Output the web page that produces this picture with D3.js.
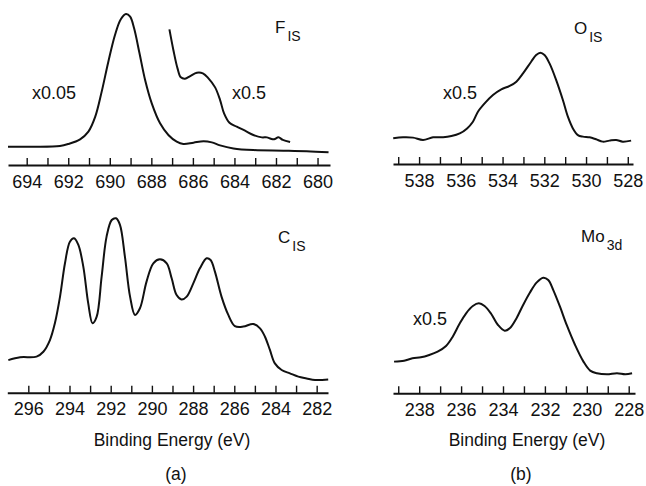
<!DOCTYPE html>
<html>
<head>
<meta charset="utf-8">
<script src="https://cdn.jsdelivr.net/npm/d3@7"></script>
<style>
  body { margin: 0; background: #fff; }
  svg { font-family: "Liberation Sans", Arial, sans-serif; }
</style>
</head>
<body>
<div id="plot"></div>
<script>
// binding energy (eV), intensity (arb. units, peak = 100)
const f1sMain = [[694.9,12.1],[693.68,12.1],[692.4,12.6],[692.0,13.9],[691.43,17.0],[691.03,22.1],[690.7,32.0],[690.39,48.6],[690.07,68.4],[689.75,86.1],[689.47,96.5],[689.22,100],[689.02,98.2],[688.83,90.5],[688.57,74],[688.3,56.3],[687.98,40.8],[687.58,27.6],[687.18,19.9],[686.78,15.5],[686.46,13.9],[685.97,14.8],[685.49,15.7],[685.09,15.0],[684.69,13.0],[684.05,11.0],[683.09,9.9],[681.64,9.5],[680.52,9.1],[679.47,8.4]];
const f1sHalf = [[687.13,89.8],[686.94,76.2],[686.74,64.0],[686.58,58.1],[686.38,57.2],[686.13,58.9],[685.81,61.1],[685.52,60.7],[685.25,57.4],[684.93,51.4],[684.69,43.0],[684.5,34.2],[684.24,28.0],[683.89,25.4],[683.49,22.7],[683.09,19.9],[682.68,18.3],[682.44,18.3],[682.25,17.4],[682.09,17.0],[681.88,18.3],[681.67,16.6],[681.32,15.2]];
const o1s = [[539.24,23.1],[538.77,24.0],[538.29,23.7],[537.81,21.6],[537.33,24.0],[536.85,24.0],[536.45,25.1],[536.05,27.5],[535.7,32.0],[535.42,38.0],[535.18,47.0],[534.86,54.5],[534.46,62.0],[534.06,67.1],[533.66,70.1],[533.34,74.0],[533.02,81.4],[532.63,91.9],[532.39,97.9],[532.19,100],[531.99,97.9],[531.75,90.4],[531.43,75.4],[531.11,57.5],[530.87,42.5],[530.63,32.0],[530.39,26.0],[530.15,24.6],[529.83,24.0],[529.52,22.2],[529.2,20.1],[528.88,21.0],[528.56,21.6],[528.24,20.1],[527.84,21.0]];
const c1s = [[296.97,18.7],[296.4,20.3],[295.6,20.7],[295.27,23.5],[294.95,30.2],[294.71,39.8],[294.46,55.1],[294.22,74.2],[293.98,86.6],[293.78,88.5],[293.57,84.7],[293.33,72.3],[293.09,51.2],[292.88,39.8],[292.68,43.6],[292.44,66.5],[292.2,89.5],[291.95,99.0],[291.74,100],[291.55,96.2],[291.31,78.0],[291.06,55.1],[290.82,44.6],[290.58,48.4],[290.26,63.7],[289.93,74.2],[289.61,76.5],[289.28,74.2],[289.04,65.6],[288.8,56.0],[288.56,53.5],[288.31,55.1],[287.99,62.7],[287.67,71.3],[287.34,77.1],[287.15,76.1],[286.94,69.4],[286.62,55.1],[286.29,44.6],[285.97,38.2],[285.56,37.9],[285.08,39.4],[284.75,36.9],[284.51,32.1],[284.27,24.5],[284.03,16.8],[283.7,13.0],[283.3,11.1],[282.89,9.2],[282.49,8.2],[282.08,7.3],[281.44,7.6]];
const mo3d = [[239.2,27.4],[238.72,28.2],[238.32,30.3],[237.92,31.1],[237.52,33.1],[237.12,36.0],[236.72,40.9],[236.4,49.0],[236.08,59.9],[235.76,69.2],[235.44,75.5],[235.15,77.8],[234.88,75.5],[234.56,68.6],[234.24,59.1],[233.92,54.2],[233.68,56.2],[233.36,64.8],[233.04,76.4],[232.72,87.0],[232.4,95.7],[232.08,100],[231.84,98.0],[231.6,89.3],[231.28,74.9],[230.96,59.1],[230.56,41.8],[230.16,27.4],[229.84,19.6],[229.52,17.3],[229.04,16.4],[228.56,17.3],[228.16,16.4],[227.84,17.3]];

const f1sTicks = d3.range(680, 695);
const o1sTicks = d3.range(528, 540);
const c1sTicks = d3.range(282, 297);
const mo3dTicks = d3.range(228, 240);

const width = 646, height = 486;
const svg = d3.select("#plot").append("svg")
  .attr("width", width).attr("height", height);

function panel(opt) {
  const x = d3.scaleLinear().domain(opt.xDomain).range(opt.xRange);
  const y = d3.scaleLinear().domain([0, 100]).range([opt.axisY, opt.topY]);

  const axis = d3.axisBottom(x)
    .tickValues(opt.ticks)
    .tickSizeInner(-7).tickSizeOuter(0).tickPadding(10)
    .tickFormat(d => d % 2 === 0 ? d : "");

  const g = svg.append("g").attr("transform", `translate(0,${opt.axisY})`).call(axis);
  g.select(".domain").attr("stroke", "#111").attr("stroke-width", 2);
  g.selectAll(".tick line").attr("stroke", "#111").attr("stroke-width", 1.4);
  g.selectAll(".tick text").attr("fill", "#111").attr("font-size", 18)
    .attr("font-family", "Liberation Sans, Arial, sans-serif");

  const line = d3.line().x(d => x(d[0])).y(d => y(d[1])).curve(d3.curveCatmullRom);
  opt.series.forEach(s => {
    svg.append("path").datum(s).attr("d", line)
      .attr("fill", "none").attr("stroke", "#111").attr("stroke-width", 2)
      .attr("stroke-linejoin", "round");
  });

  const t = svg.append("text").attr("x", opt.label.x).attr("y", opt.label.y)
    .attr("font-size", 17).attr("fill", "#111");
  t.append("tspan").text(opt.label.main);
  t.append("tspan").attr("dx", 2).attr("dy", 8).attr("font-size", 14).text(opt.label.sub);

  opt.notes.forEach(n => {
    svg.append("text").attr("x", n.x).attr("y", n.y)
      .attr("font-size", 18).attr("fill", "#111").text(n.text);
  });
}

panel({
  xDomain: [694.9, 679.4], xRange: [8, 330], axisY: 165, topY: 14,
  ticks: f1sTicks, series: [f1sMain, f1sHalf],
  label: {x: 275, y: 33, main: "F", sub: "IS"},
  notes: [{x: 32, y: 99, text: "x0.05"}, {x: 232, y: 99, text: "x0.5"}]
});
panel({
  xDomain: [539.25, 527.75], xRange: [393, 633], axisY: 164, topY: 52.7,
  ticks: o1sTicks, series: [o1s],
  label: {x: 574, y: 34, main: "O", sub: "IS"},
  notes: [{x: 443, y: 99, text: "x0.5"}]
});
panel({
  xDomain: [297.02, 281.45], xRange: [7.3, 328], axisY: 392.7, topY: 218.3,
  ticks: c1sTicks, series: [c1s],
  label: {x: 278, y: 243, main: "C", sub: "IS"},
  notes: []
});
panel({
  xDomain: [239.25, 227.7], xRange: [393, 635], axisY: 393.3, topY: 277.7,
  ticks: mo3dTicks, series: [mo3d],
  label: {x: 581, y: 242, main: "Mo", sub: "3d"},
  notes: [{x: 413, y: 325, text: "x0.5"}]
});

// axis titles and panel captions
const captions = [
  {x: 172, text: "Binding Energy (eV)", y: 446},
  {x: 527, text: "Binding Energy (eV)", y: 446},
  {x: 176, text: "(a)", y: 480},
  {x: 521, text: "(b)", y: 480}
];
svg.selectAll("text.caption").data(captions).join("text")
  .attr("class", "caption")
  .attr("x", d => d.x).attr("y", d => d.y)
  .attr("text-anchor", "middle").attr("font-size", 17.5).attr("fill", "#111")
  .text(d => d.text);
</script>
</body>
</html>
